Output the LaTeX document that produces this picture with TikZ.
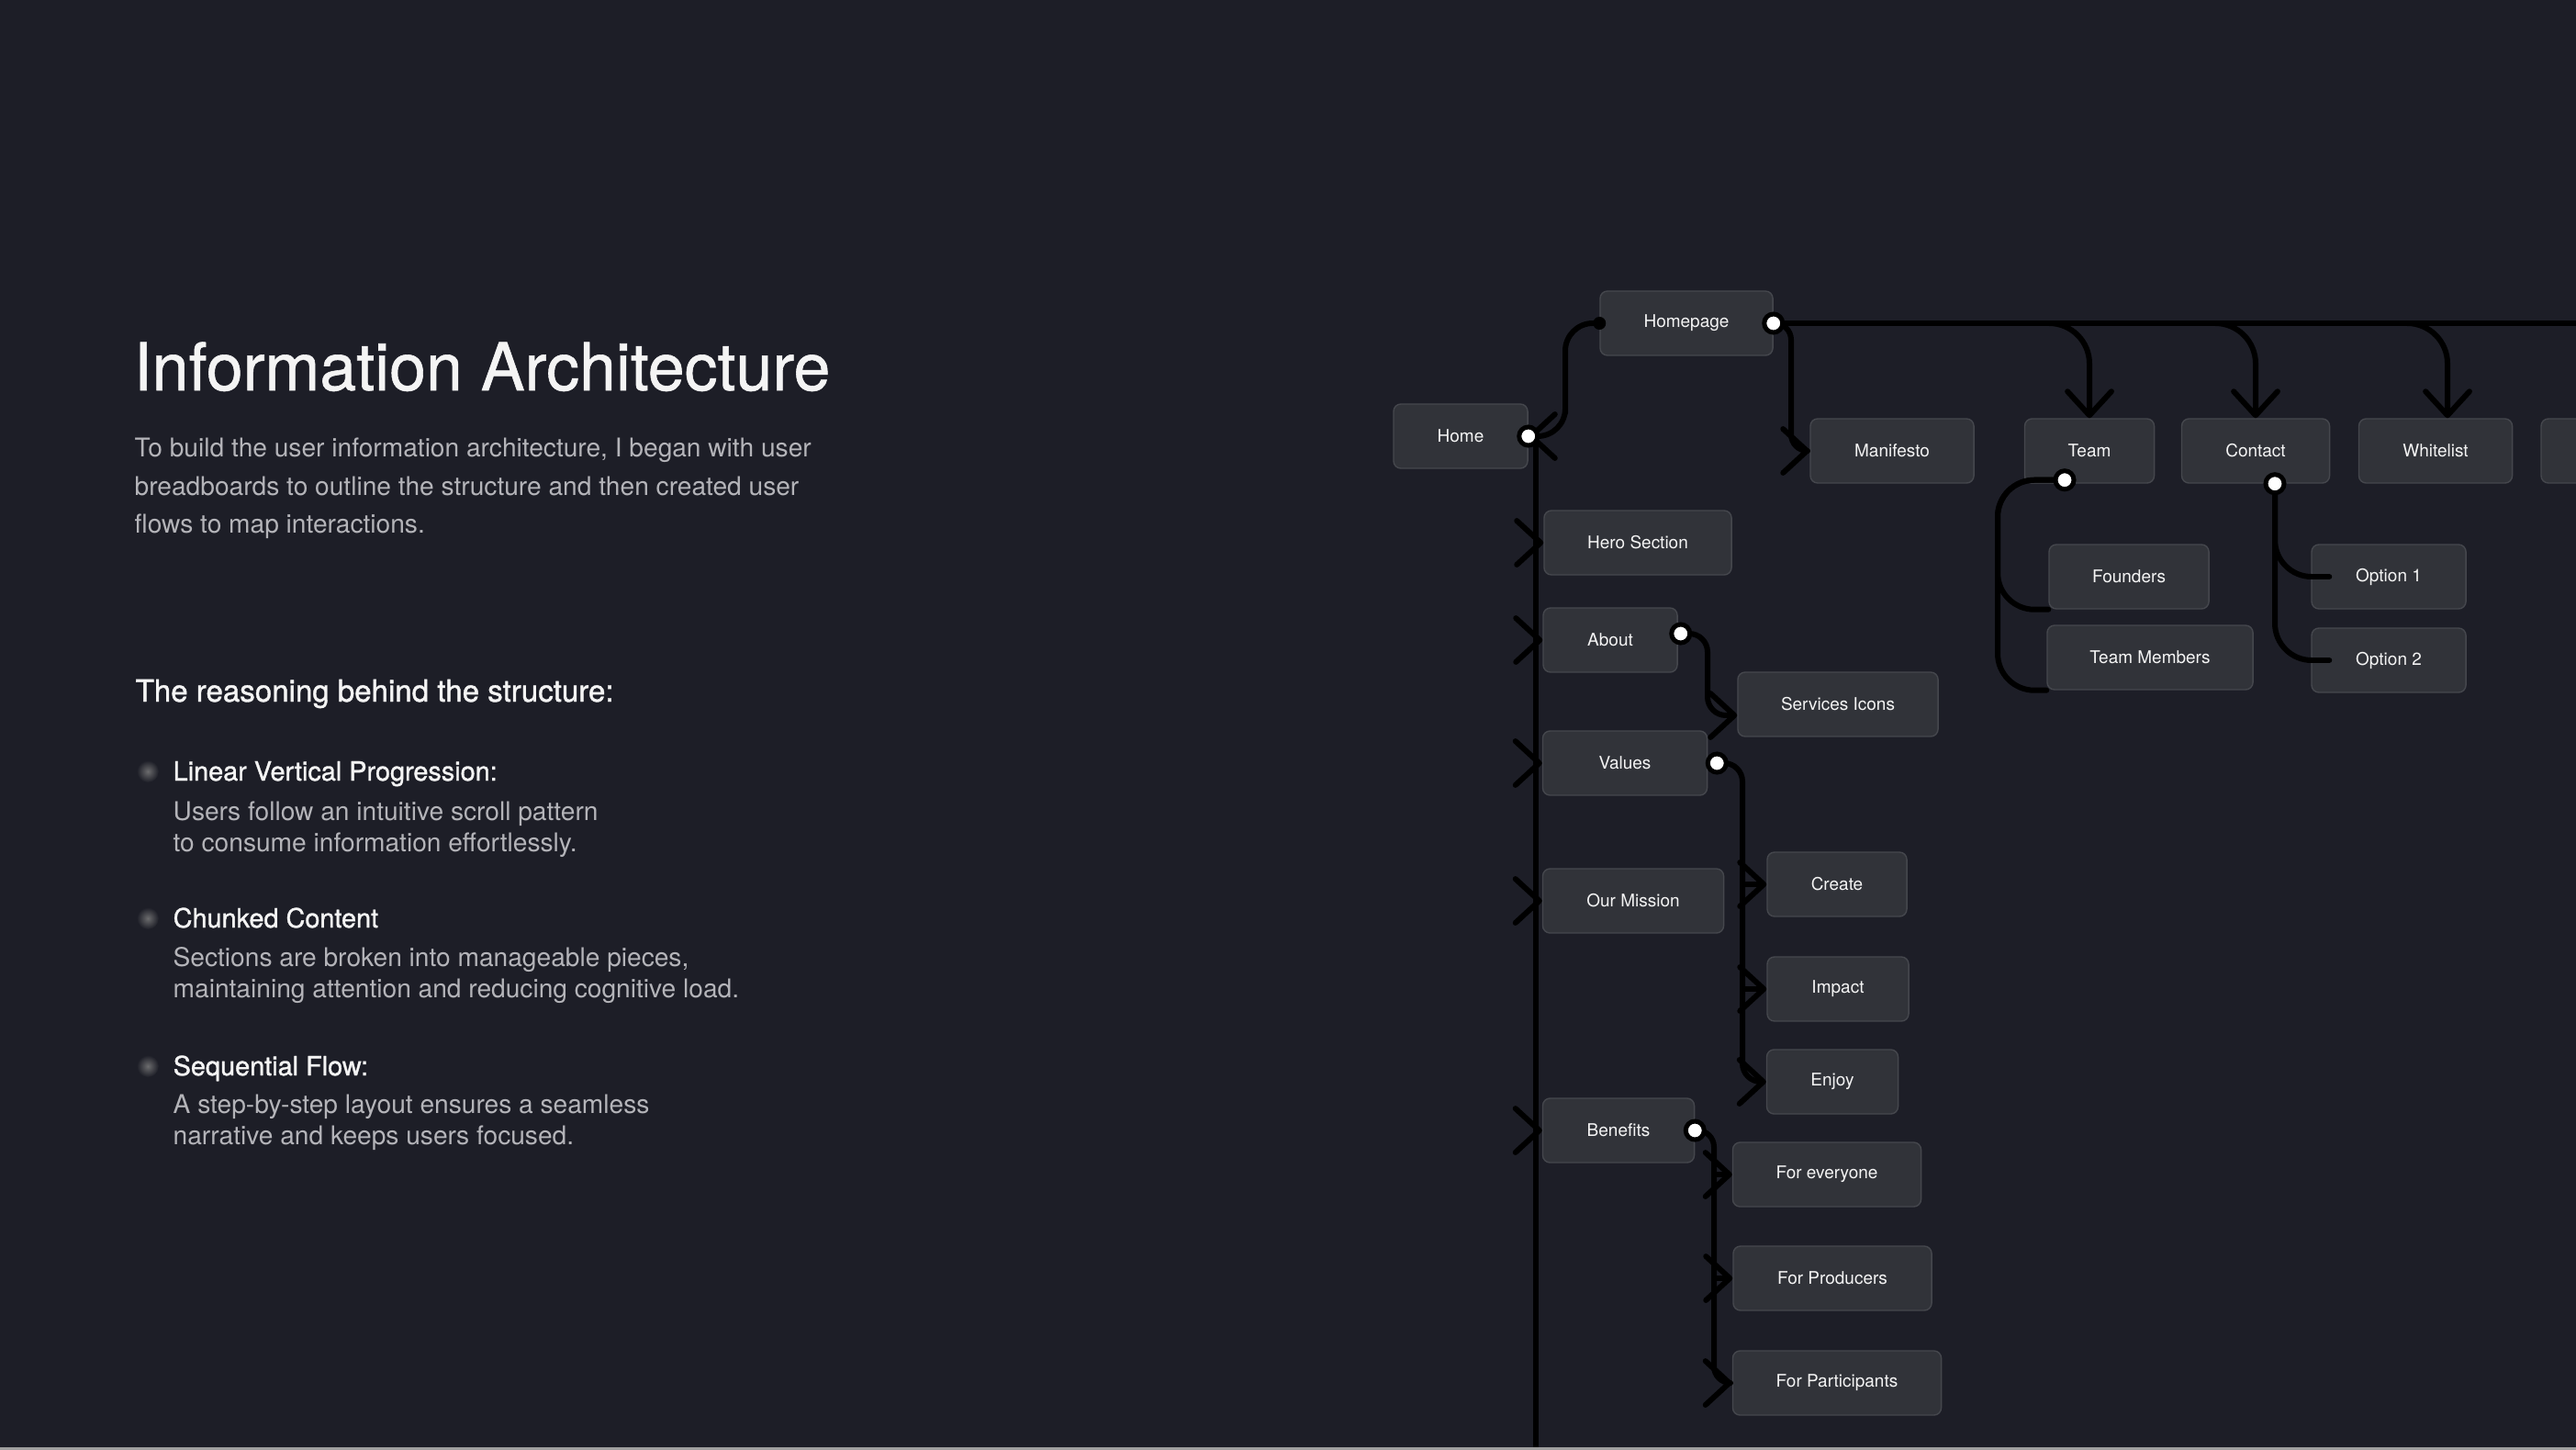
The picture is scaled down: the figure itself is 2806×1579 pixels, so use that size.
\documentclass[tikz,border=0pt]{standalone}
\usepackage{fontspec}
\setmainfont{TeX Gyre Heros}
\newfontfamily\titlefont{TeX Gyre Heros}[FakeBold=0.8]
\newfontfamily\headfont{TeX Gyre Heros}[FakeBold=1.2]
\usetikzlibrary{arrows.meta,calc}
\definecolor{bg}{HTML}{1D1E27}
\definecolor{boxfill}{HTML}{313339}
\definecolor{boxline}{HTML}{45474D}
\definecolor{bodytext}{HTML}{B4B4B9}
\definecolor{headtext}{HTML}{F4F4F4}

\begin{document}
\begin{tikzpicture}[x=0.01cm,y=-0.01cm,
  >={Straight Barb[round,length=7.4pt,width=13.6pt]},
  page/.style={draw=boxline,line width=0.4pt,fill=boxfill,rounded corners=0.08cm,
    minimum height=0.7cm,inner sep=0pt,text=headtext,font=\fontsize{5.4}{6.5}\selectfont},
  link/.style={line width=1.7pt,line cap=round,line join=round},
  port/.style={circle,fill=white,draw=black,line width=0.05cm,minimum size=0.2cm,inner sep=0pt},
  head/.style={anchor=base west,inner sep=0pt,text=headtext,font=\headfont\fontsize{8.2}{10}\selectfont},
  body/.style={anchor=north west,inner sep=0pt,align=left,text=bodytext,font=\fontsize{8}{9.7}\selectfont},
  bullet/.style={inner color=gray!80!bg,outer color=bg}]
  \useasboundingbox (0,0) rectangle (2806,1579);
  \clip (0,0) rectangle (2806,1579);
  \fill[bg] (0,0) rectangle (2806,1579);

  % text column
  \node[anchor=base west,inner sep=0pt,text=headtext,font=\titlefont\fontsize{20.4}{24}\selectfont] (title) at (145,425) {Information Architecture};
  \node[body,font=\fontsize{8}{11.9}\selectfont] (intro) at (146,476) {To build the user information architecture, I began with user\\breadboards to outline the structure and then created user\\flows to map interactions.};
  \node[head,font=\headfont\fontsize{9.4}{11}\selectfont] (reasons) at (147,764) {The reasoning behind the structure:};
  \shade[bullet] (161,840) circle (0.12cm);
  \node[head] (linear) at (188,850) {Linear Vertical Progression:};
  \node[body] (lineartxt) at (188,872) {Users follow an intuitive scroll pattern\\to consume information effortlessly.};
  \shade[bullet] (161,1000) circle (0.12cm);
  \node[head] (chunked) at (188,1010) {Chunked Content};
  \node[body] (chunkedtxt) at (188,1031) {Sections are broken into manageable pieces,\\maintaining attention and reducing cognitive load.};
  \shade[bullet] (161,1161) circle (0.12cm);
  \node[head] (sequential) at (188,1171) {Sequential Flow:};
  \node[body] (sequentialtxt) at (188,1191) {A step-by-step layout ensures a seamless\\narrative and keeps users focused.};

  % pages
  \node[page,minimum width=1.46cm] (home) at (1591,475) {Home};
  \node[page,minimum width=1.88cm] (homepage) at (1837,352) {Homepage};
  \node[page,minimum width=1.78cm] (manifesto) at (2061,491) {Manifesto};
  \node[page,minimum width=1.41cm] (team) at (2276,491) {Team};
  \node[page,minimum width=1.61cm] (contact) at (2457,491) {Contact};
  \node[page,minimum width=1.67cm] (whitelist) at (2653,491) {Whitelist};
  \node[page,minimum width=1.60cm] (nextpage) at (2848,491) {};
  \node[page,minimum width=1.74cm] (founders) at (2319,628) {Founders};
  \node[page,minimum width=2.24cm] (members) at (2342,716) {Team Members};
  \node[page,minimum width=1.68cm] (option1) at (2602,628) {Option 1};
  \node[page,minimum width=1.68cm] (option2) at (2602,719) {Option 2};
  \node[page,minimum width=2.04cm] (hero) at (1784,591) {Hero Section};
  \node[page,minimum width=1.46cm] (about) at (1754,697) {About};
  \node[page,minimum width=2.18cm] (services) at (2002,767) {Services Icons};
  \node[page,minimum width=1.79cm] (values) at (1770,831) {Values};
  \node[page,minimum width=1.97cm] (mission) at (1779,981) {Our Mission};
  \node[page,minimum width=1.52cm] (create) at (2001,963) {Create};
  \node[page,minimum width=1.54cm] (impact) at (2002,1077) {Impact};
  \node[page,minimum width=1.43cm] (enjoy) at (1996,1178) {Enjoy};
  \node[page,minimum width=1.65cm] (benefits) at (1763,1231) {Benefits};
  \node[page,minimum width=2.05cm] (everyone) at (1990,1279) {For everyone};
  \node[page,minimum width=2.16cm] (producers) at (1996,1392) {For Producers};
  \node[page,minimum width=2.27cm] (participants) at (2001,1506) {For Participants};

  % bends and ports
  \coordinate (spinetop) at (1673,475);
  \coordinate (spinebot) at (1673,1590);
  \coordinate (hbend) at (1705,420);
  \coordinate (mbend) at (1951,420);
  \coordinate (railend) at (2830,352);
  \coordinate (tbus) at (2176,600);
  \coordinate (abus) at (1860,730);
  \coordinate (vbus) at (1898,1000);
  \coordinate (bbus) at (1867,1400);
  \coordinate (aboutpt) at ($(about.east)+(3,-7)$);
  \coordinate (valuespt) at ($(values.east)+(10,0)$);
  \coordinate (teampt) at ($(team.south)+(-27,-4)$);
  \coordinate (contactpt) at ($(contact.south)+(21,0)$);

  % links
  \draw[link,->,rounded corners=0.3cm] (homepage.west) -| (hbend) |- (home.east);
  \draw[link] (homepage.east) -- (railend);
  \draw[link,->,rounded corners=0.18cm] (homepage.east) -| (mbend) |- (manifesto.west);
  \draw[link,->,rounded corners=0.44cm] (homepage.east) -| (team.north);
  \draw[link,->,rounded corners=0.44cm] (homepage.east) -| (contact.north);
  \draw[link,->,rounded corners=0.44cm] (homepage.east) -| ([xshift=0.13cm]whitelist.north);
  \draw[link,rounded corners=0.4cm] (teampt) -| (tbus) |- (founders.south west);
  \draw[link,rounded corners=0.4cm] (teampt) -| (tbus) |- (members.south west);
  \draw[link,rounded corners=0.4cm] (contactpt) |- ($(option1.west)+(20,0)$);
  \draw[link,rounded corners=0.4cm] (contactpt) |- ($(option2.west)+(20,0)$);

  \draw[link] (spinetop) -- (spinebot);
  \foreach \n in {hero,about,values,mission,benefits}
    \draw[link,->] (spinetop |- \n.west) -- (\n.west);
  \draw[link,->,rounded corners=0.2cm] (aboutpt) -| (abus) |- ($(services.west)+(0,12)$);
  \draw[link,->,rounded corners=0.2cm] (valuespt) -| (vbus) |- (enjoy.west);
  \foreach \n in {create,impact}
    \draw[link,->] (vbus |- \n.west) -- (\n.west);
  \draw[link,->,rounded corners=0.18cm] (benefits.east) -| (bbus) |- (participants.west);
  \foreach \n in {everyone,producers}
    \draw[link,->] (bbus |- \n.west) -- (\n.west);

  \fill (homepage.west) circle (0.07cm);
  \node[port] (homepin) at (home.east) {};
  \node[port] (homepagepin) at (homepage.east) {};
  \node[port] (aboutpin) at (aboutpt) {};
  \node[port] (valuespin) at (valuespt) {};
  \node[port] (benefitspin) at (benefits.east) {};
  \node[port] (teampin) at (teampt) {};
  \node[port] (contactpin) at (contactpt) {};

  \fill[gray!75] (0,1576) rectangle (2806,1579);
\end{tikzpicture}
\end{document}
